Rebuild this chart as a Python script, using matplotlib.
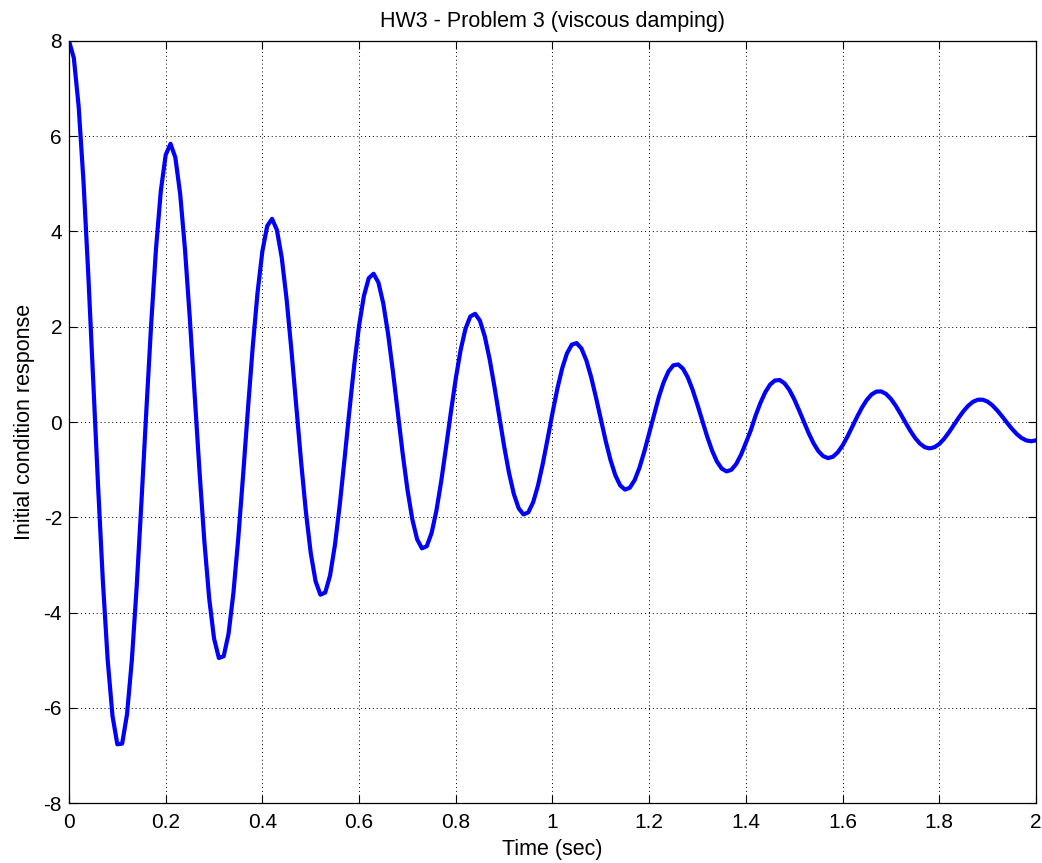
import numpy as np
import matplotlib
matplotlib.use('Agg')
import matplotlib.pyplot as plt

# time axis, sampled every 10 ms over 0..2 s
time_sec = np.arange(201) * 0.01

# initial condition response (same sampling as time_sec)
response = [
    8.000, 7.645, 6.627, 5.054, 3.082, 0.895, -1.305, -3.325, -4.992, -6.170,
    -6.768, -6.752, -6.141, -5.005, -3.462, -1.659, 0.237, 2.056, 3.640, 4.856,
    5.608, 5.842, 5.555, 4.786, 3.617, 2.164, 0.563, -1.041, -2.505, -3.705,
    -4.543, -4.955, -4.918, -4.448, -3.599, -2.459, -1.135, 0.250, 1.572, 2.716,
    3.587, 4.116, 4.266, 4.035, 3.454, 2.587, 1.517, 0.345, -0.823, -1.885,
    -2.748, -3.343, -3.626, -3.581, -3.221, -2.587, -1.745, -0.773, 0.239, 1.199,
    2.025, 2.648, 3.020, 3.113, 2.930, 2.493, 1.849, 1.061, 0.203, -0.648,
    -1.416, -2.037, -2.460, -2.653, -2.607, -2.331, -1.859, -1.236, -0.523, 0.215,
    0.913, 1.509, 1.955, 2.215, 2.272, 2.127, 1.798, 1.321, 0.741, 0.113,
    -0.506, -1.063, -1.509, -1.809, -1.941, -1.897, -1.687, -1.335, -0.875, -0.352,
    0.187, 0.693, 1.124, 1.442, 1.624, 1.657, 1.543, 1.296, 0.943, 0.516,
    0.057, -0.394, -0.797, -1.118, -1.330, -1.419, -1.380, -1.220, -0.958, -0.619,
    -0.235, 0.158, 0.526, 0.836, 1.063, 1.190, 1.209, 1.119, 0.934, 0.672,
    0.358, 0.022, -0.306, -0.597, -0.827, -0.978, -1.037, -1.004, -0.882, -0.687,
    -0.437, -0.180, 0.131, 0.398, 0.622, 0.784, 0.872, 0.881, 0.812, 0.673,
    0.479, 0.248, 0.003, -0.236, -0.447, -0.612, -0.718, -0.758, -0.730, -0.638,
    -0.493, -0.308, -0.102, 0.107, 0.301, 0.462, 0.578, 0.639, 0.642, 0.589,
    0.485, 0.341, 0.171, -0.008, -0.182, -0.334, -0.453, -0.528, -0.554, -0.530,
    -0.461, -0.353, -0.217, -0.066, 0.087, 0.227, 0.343, 0.426, 0.468, 0.468,
    0.427, 0.349, 0.242, 0.118, -0.013, -0.139, -0.250, -0.334, -0.387, -0.404,
    -0.385,
]

x_ticks = [0, 0.2, 0.4, 0.6, 0.8, 1, 1.2, 1.4, 1.6, 1.8, 2]
x_tick_labels = ['0', '0.2', '0.4', '0.6', '0.8', '1', '1.2', '1.4', '1.6', '1.8', '2']
y_ticks = [-8, -6, -4, -2, 0, 2, 4, 6, 8]

plt.rcParams['font.family'] = ['Liberation Sans', 'DejaVu Sans']
plt.rcParams['axes.unicode_minus'] = False

fig = plt.figure(figsize=(10.42, 8.63), dpi=100)
ax = fig.add_axes([0.0662, 0.0695, 0.928, 0.883])

ax.plot(time_sec, response, color='#0000ff', linewidth=3.0,
        solid_capstyle='round', solid_joinstyle='round')

ax.set_xlim(0, 2)
ax.set_ylim(-8, 8)
ax.set_xticks(x_ticks)
ax.set_xticklabels(x_tick_labels)
ax.set_yticks(y_ticks)
ax.tick_params(direction='in', top=True, right=True, length=6, width=0.8,
               labelsize=15)
ax.tick_params(axis='x', pad=7)
ax.tick_params(axis='y', pad=5)

ax.grid(True, color='black', linestyle=(0, (1, 3)), linewidth=0.7)
for spine in ax.spines.values():
    spine.set_linewidth(0.9)

ax.set_title('HW3 - Problem 3 (viscous damping)', fontsize=15.5, pad=10)
ax.set_xlabel('Time (sec)', fontsize=15.5, labelpad=5)
ax.set_ylabel('Initial condition response', fontsize=15.5, labelpad=6)

fig.savefig('out.png', dpi=100)
